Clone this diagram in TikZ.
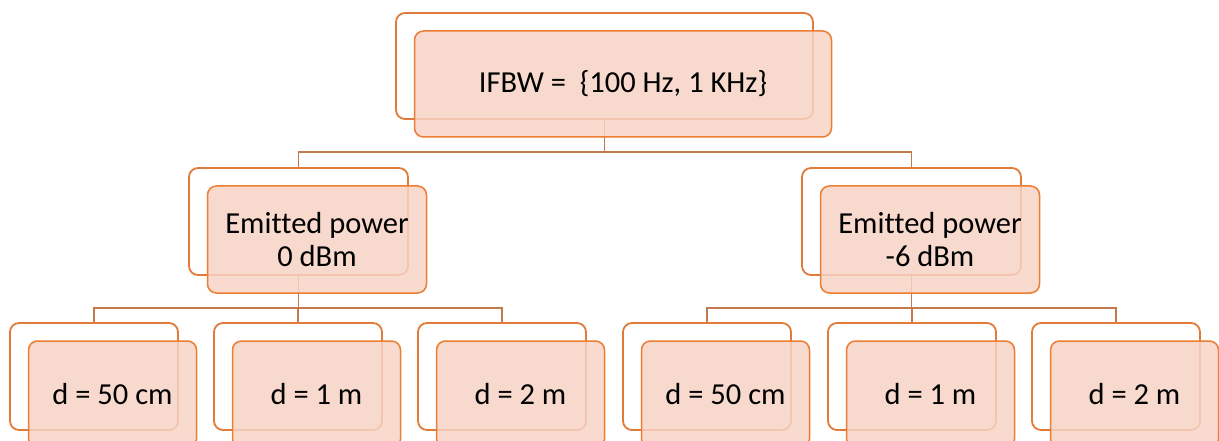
\documentclass[tikz,border=0pt]{standalone}
\usepackage{fontspec}
\setmainfont{Carlito}[Ligatures=NoCommon]
\usetikzlibrary{backgrounds}
\definecolor{backc}{HTML}{E07B39}
\definecolor{frontc}{HTML}{ED7D31}
\definecolor{fillc}{HTML}{F7D3C5}
\definecolor{connc}{HTML}{C47A4C}
\begin{document}
\begin{tikzpicture}[x=1pt,y=-1pt,
  backbox/.style={draw=backc, line width=1.8pt, fill=white, rounded corners=9pt, minimum height=107pt, inner sep=0pt},
  frontbox/.style={draw=frontc, line width=1.5pt, fill=fillc, fill opacity=0.85, text opacity=1, rounded corners=9pt, minimum height=107pt, inner sep=0pt, align=center, font=\fontsize{30.5}{33}\selectfont},
  conn/.style={draw=connc, line width=1.5pt}]
\useasboundingbox (0,0) rectangle (1219,441);
\clip (0,0) rectangle (1219,441);
% top
\node[backbox, minimum width=417pt, minimum height=106pt] (top) at (604.5,66) {};
\node[frontbox, minimum width=417pt, minimum height=106pt] (topf) at ([shift={(18.5,18)}]top.center) {IFBW =\ \ \{100 Hz, 1 KHz\}};
% middle
\node[backbox, minimum width=219pt] (ml) at (298.5,221.5) {};
\node[frontbox, minimum width=219pt] (mlf) at ([shift={(18.5,18)}]ml.center) {Emitted power\\0 dBm};
\node[backbox, minimum width=219pt] (mr) at (911.5,221.5) {};
\node[frontbox, minimum width=219pt] (mrf) at ([shift={(18.5,18)}]mr.center) {Emitted power\\-6 dBm};
% bottom
\node[backbox, minimum width=168pt] (l1) at (94,376.5) {};
\node[frontbox, minimum width=168pt] (l1f) at ([shift={(18.5,18)}]l1.center) {d = 50 cm};
\node[backbox, minimum width=168pt] (l2) at (298,376.5) {};
\node[frontbox, minimum width=168pt] (l2f) at ([shift={(18.5,18)}]l2.center) {d = 1 m};
\node[backbox, minimum width=168pt] (l3) at (502,376.5) {};
\node[frontbox, minimum width=168pt] (l3f) at ([shift={(18.5,18)}]l3.center) {d = 2 m};
\node[backbox, minimum width=168pt] (r1) at (707,376.5) {};
\node[frontbox, minimum width=168pt] (r1f) at ([shift={(18.5,18)}]r1.center) {d = 50 cm};
\node[backbox, minimum width=168pt] (r2) at (912,376.5) {};
\node[frontbox, minimum width=168pt] (r2f) at ([shift={(18.5,18)}]r2.center) {d = 1 m};
\node[backbox, minimum width=168pt] (r3) at (1116,376.5) {};
\node[frontbox, minimum width=168pt] (r3f) at ([shift={(18.5,18)}]r3.center) {d = 2 m};
% connectors
\begin{scope}[on background layer]
\coordinate (bus0) at (604.5,152);
\coordinate (busL) at (298.5,308);
\coordinate (busR) at (911.5,308);
\draw[conn] (top.south) -- (bus0) -| (ml.north);
\draw[conn] (bus0) -| (mr.north);
\draw[conn] (ml.south) -- (busL) -| (l1.north);
\draw[conn] (busL) -| (l2.north);
\draw[conn] (busL) -| (l3.north);
\draw[conn] (mr.south) -- (busR) -| (r1.north);
\draw[conn] (busR) -| (r2.north);
\draw[conn] (busR) -| (r3.north);
\end{scope}
\end{tikzpicture}
\end{document}
